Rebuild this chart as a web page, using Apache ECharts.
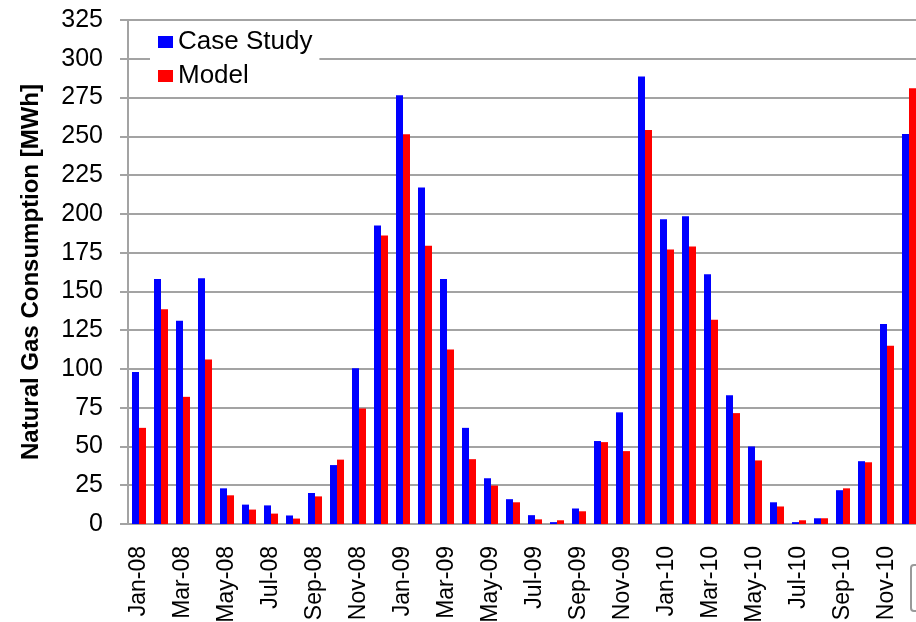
<!DOCTYPE html>
<html>
<head>
<meta charset="utf-8">
<script src="https://cdn.jsdelivr.net/npm/echarts@6/dist/echarts.min.js"></script>
<style>
  html, body { margin: 0; padding: 0; background: #fff; }
  #chart { width: 916px; height: 622px; }
</style>
</head>
<body>
<div id="chart"></div>
<script>
// months Jan-08 .. Dec-10
var months = [
  'Jan-08', 'Feb-08', 'Mar-08', 'Apr-08', 'May-08', 'Jun-08', 'Jul-08', 'Aug-08', 'Sep-08', 'Oct-08', 'Nov-08', 'Dec-08',
  'Jan-09', 'Feb-09', 'Mar-09', 'Apr-09', 'May-09', 'Jun-09', 'Jul-09', 'Aug-09', 'Sep-09', 'Oct-09', 'Nov-09', 'Dec-09',
  'Jan-10', 'Feb-10', 'Mar-10', 'Apr-10', 'May-10', 'Jun-10', 'Jul-10', 'Aug-10', 'Sep-10', 'Oct-10', 'Nov-10', 'Dec-10'
]
var caseStudy = [
  98, 158, 131, 158.5, 23, 12.5, 12, 5.5, 20, 38, 100.5, 192.5,
  276.5, 217, 158, 62, 29.5, 16, 5.7, 1.2, 10, 53.5, 72, 288.5,
  196.5, 198.5, 161, 83, 50, 14, 1.2, 3.7, 21.8, 40.5, 129, 251.5
]
var model = [
  62, 138.5, 82, 106, 18.5, 9.3, 6.7, 3.5, 17.8, 41.5, 74.5, 186,
  251.3, 179.5, 112.5, 41.8, 24.8, 14, 3, 2.4, 8.2, 52.8, 47, 254,
  177, 179, 131.7, 71.5, 41, 11.3, 2.4, 3.7, 23, 39.8, 115, 281
]
var yTicks = { min: 0, max: 325, interval: 25 }

var gridColor = '#a3a3a3'
var chart = echarts.init(document.getElementById('chart'))
var option = {
  animation: false,
  textStyle: { fontFamily: 'Liberation Sans, Arial, sans-serif', color: '#000' },
  legend: {
    orient: 'vertical',
    left: 150,
    top: 23,
    padding: [6, 7, 6, 8],
    backgroundColor: '#fff',
    itemWidth: 15,
    itemHeight: 12,
    itemGap: 8,
    icon: 'rect',
    textStyle: { fontSize: 26, lineHeight: 26, color: '#000' },
    data: ['Case Study', 'Model']
  },
  grid: {
    left: 128,
    right: -4,
    top: 20,
    bottom: 98,
    outerBoundsMode: 'none'
  },
  // little grey handle seen at the bottom right edge of the picture
  graphic: [{
    type: 'rect',
    right: -4,
    bottom: 10,
    shape: { width: 8, height: 46, r: 3 },
    style: { fill: '#fff', stroke: '#999', lineWidth: 2 }
  }],
  xAxis: {
    type: 'category',
    data: months,
    axisLine: { lineStyle: { color: gridColor, width: 2 } },
    axisTick: { show: false },
    axisLabel: {
      interval: 1,
      rotate: 90,
      fontSize: 23,
      color: '#000',
      margin: 22
    }
  },
  yAxis: {
    type: 'value',
    min: yTicks.min,
    max: yTicks.max,
    interval: yTicks.interval,
    name: 'Natural Gas Consumption [MWh]',
    nameLocation: 'middle',
    nameRotate: 90,
    nameGap: 85,
    nameTextStyle: { fontSize: 24, fontWeight: 'bold', color: '#000' },
    axisLine: { show: true, lineStyle: { color: gridColor, width: 2 } },
    axisTick: { show: true, length: 8, lineStyle: { color: gridColor, width: 2 } },
    splitLine: { lineStyle: { color: gridColor, width: 2 } },
    axisLabel: { fontSize: 25, color: '#000', margin: 25 }
  },
  series: [
    {
      name: 'Case Study',
      type: 'bar',
      data: caseStudy,
      barWidth: 7,
      barGap: '0%',
      itemStyle: { color: '#0000ff' }
    },
    {
      name: 'Model',
      type: 'bar',
      data: model,
      barWidth: 7,
      itemStyle: { color: '#ff0000' }
    }
  ]
}
chart.setOption(option)
</script>
</body>
</html>
